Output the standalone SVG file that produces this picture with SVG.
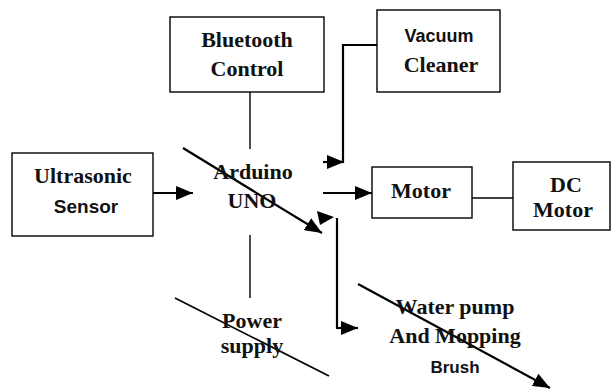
<svg xmlns="http://www.w3.org/2000/svg" width="611" height="390" viewBox="0 0 611 390">
<style>
.box{fill:#fff;stroke:#000;stroke-width:1.4}
.serif{font-family:"Liberation Serif","Times New Roman",serif;font-weight:bold;font-size:22px;fill:#111;text-anchor:middle}
.sans{font-family:"Liberation Sans",Arial,sans-serif;font-weight:bold;font-size:18px;fill:#111;text-anchor:middle}
.arr{fill:none;stroke:#000;stroke-width:2.2}
.thin{fill:none;stroke:#000;stroke-width:1.4}
</style>
<defs>
<marker id="ah" viewBox="0 0 17 14" refX="17" refY="7" markerWidth="17" markerHeight="14" markerUnits="userSpaceOnUse" orient="auto">
<path d="M0,0 L17,7 L0,14 Z" fill="#000"/>
</marker>
</defs>
<g id="connectors">
<line class="thin" x1="250" y1="92" x2="250" y2="149"/>
<line class="thin" x1="250" y1="235" x2="250" y2="298"/>
<line class="arr" x1="153" y1="193" x2="193" y2="193" marker-end="url(#ah)"/>
<line class="arr" x1="323" y1="162" x2="344" y2="162" marker-end="url(#ah)"/>
<polyline class="arr" points="343,163 343,45 377,45"/>
<line class="arr" x1="323" y1="193" x2="372" y2="193" marker-end="url(#ah)"/>
<line class="thin" x1="472" y1="198" x2="513" y2="198" style="stroke-width:1.6"/>
<line class="arr" x1="183" y1="148" x2="322" y2="233" marker-end="url(#ah)"/>
<path d="M317,211 L334,217 L320,225 Z" fill="#000"/>
<polyline class="arr" points="337,218 337,328 341,328"/>
<line class="arr" x1="337" y1="328" x2="358" y2="328" marker-end="url(#ah)"/>
<line class="arr" x1="358" y1="284" x2="550" y2="388" marker-end="url(#ah)"/>
<line class="thin" x1="175" y1="298" x2="329" y2="376" style="stroke-width:1.6"/>
</g>
<g id="bluetooth">
<rect class="box" x="170" y="17" width="154" height="75"/>
<text class="serif" x="247" y="47">Bluetooth</text>
<text class="serif" x="247" y="76">Control</text>
</g>
<g id="vacuum">
<rect class="box" x="377" y="10" width="123" height="82"/>
<text class="sans" x="439" y="42">Vacuum</text>
<text class="serif" x="441" y="72">Cleaner</text>
</g>
<g id="ultrasonic">
<rect class="box" x="12" y="153" width="141" height="83"/>
<text class="serif" x="83" y="183">Ultrasonic</text>
<text class="sans" x="86" y="213" style="font-size:19px">Sensor</text>
</g>
<g id="arduino">
<text class="serif" x="253" y="179">Arduino</text>
<text class="serif" x="252" y="208">UNO</text>
</g>
<g id="motor">
<rect class="box" x="372" y="167" width="100" height="51"/>
<text class="serif" x="421" y="198">Motor</text>
</g>
<g id="dcmotor">
<rect class="box" x="513" y="162" width="97" height="68"/>
<text class="serif" x="566" y="192">DC</text>
<text class="serif" x="563" y="217">Motor</text>
</g>
<g id="power">
<text class="serif" x="252" y="328">Power</text>
<text class="serif" x="252" y="353">supply</text>
</g>
<g id="waterpump">
<text class="serif" x="455" y="314">Water pump</text>
<text class="serif" x="455" y="343">And Mopping</text>
<text class="sans" x="455" y="373" style="font-size:17px">Brush</text>
</g>
</svg>
